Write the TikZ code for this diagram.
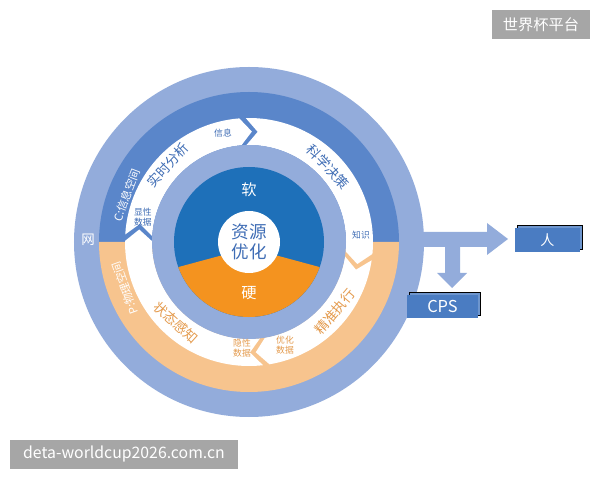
\documentclass[tikz,border=0pt]{standalone}
\usepackage{fontspec}
\setmainfont{Noto Sans CJK SC}
\usetikzlibrary{shadows}

\definecolor{ringlight}{HTML}{93ACDB}
\definecolor{ringblue}{HTML}{5A86CA}
\definecolor{ringorange}{HTML}{F7C48E}
\definecolor{coreblue}{HTML}{1E70B9}
\definecolor{coreorange}{HTML}{F4931F}
\definecolor{labelblue}{HTML}{3F6DB5}
\definecolor{labelorange}{HTML}{E49A4C}
\definecolor{boxblue}{HTML}{4A7CC2}
\definecolor{markgray}{HTML}{A6A6A6}

\begin{document}
\begin{tikzpicture}[x=0.03cm, y=0.03cm,
	steptext/.style={font=\fontsize{11.5}{12}\selectfont, inner sep=0pt},
	datatext/.style={font=\fontsize{7.5}{8.6}\selectfont, align=center, inner sep=0pt},
	ringtext/.style={text=white, font=\fontsize{9.5}{11}\selectfont, inner sep=0pt},
	outbox/.style={fill=boxblue, text=white, inner sep=0pt,
		copy shadow={shadow xshift=0.08cm, shadow yshift=0.08cm, fill=boxblue!80!white}},
	markbox/.style={fill=markgray, text=white, inner sep=0pt, minimum height=0.87cm}]
	\useasboundingbox (-249,-238) rectangle (351,242);
	% outer ring and the arrows out of it
	\fill[ringlight] (0,0) circle (175);
	\fill[ringlight] (166,10) -- (238,10) -- (238,19) -- (259,3) -- (238,-13) -- (238,-5)
		-- (211,-5) -- (211,-31) -- (218,-31) -- (203,-46) -- (188,-31) -- (196,-31)
		-- (196,-5) -- (166,-5) -- cycle;
	% C and P half rings
	\fill[ringblue] (150,0) arc[start angle=0, end angle=180, radius=150] -- cycle;
	\fill[ringorange] (-150,0) arc[start angle=180, end angle=360, radius=150] -- cycle;
	% white arrow band
	\foreach \t/\h in {176.5/94.5, 91.5/-5.5, -8.5/-80.5, -83.5/-180.5}
		\fill[white] (\t:124) arc[start angle=\t, end angle=\h, radius=124]
			-- ({\h-6}:110.5) -- (\h:97) arc[start angle=\h, end angle=\t, radius=97]
			-- ({\t-6}:110.5) -- cycle;
	% core
	\fill[ringlight] (0,0) circle (97);
	\fill[coreblue] (0,0) circle (75);
	\begin{scope}
		\clip (0,0) circle (75);
		\fill[coreorange] (0,-6) -- (-100,-33) -- (-100,-100) -- (100,-100) -- (100,-33) -- cycle;
	\end{scope}
	\fill[white] (0,0) circle (31);
	\node[text=labelblue, font=\fontsize{15}{17}\selectfont, align=center] (core) at (0,0) {资源\\优化};
	\node[text=white, font=\fontsize{13}{15}\selectfont] (soft) at (0,52) {软};
	\node[text=white, font=\fontsize{13}{15}\selectfont] (hard) at (0,-51) {硬};
	% ring labels
	\node[ringtext, rotate=69] (cyber) at (-122,47) {C:信息空间};
	\node[ringtext, rotate=110] (phys) at (-124,-46) {P:物理空间};
	\node[ringtext, font=\fontsize{11.5}{13}\selectfont] (net) at (-161,2) {网};
	% steps on the band
	\node[steptext, text=labelblue, rotate=47] (analyse) at (-81,77) {实时分析};
	\node[steptext, text=labelblue, rotate=-47] (decide) at (79,75) {科学决策};
	\node[steptext, text=labelorange, rotate=50] (execute) at (86,-70) {精准执行};
	\node[steptext, text=labelorange, rotate=-42] (sense) at (-73,-81) {状态感知};
	\node[datatext, text=labelblue] (explicit) at (-106,25) {显性\\数据};
	\node[datatext, text=labelblue] (info) at (-26,109) {信息};
	\node[datatext, text=labelblue] (know) at (112,7) {知识};
	\node[datatext, text=labelorange] (optim) at (36,-103) {优化\\数据};
	\node[datatext, text=labelorange] (implicit) at (-7,-106) {隐性\\数据};
	% output boxes
	\node[outbox, minimum width=1.95cm, minimum height=0.72cm, font=\fontsize{12}{14}\selectfont] (man) at (298.5,2) {人};
	\node[outbox, minimum width=2.13cm, minimum height=0.69cm, font=\fontsize{14}{16}\selectfont] (cps) at (193.5,-64.5) {CPS};
	% marks
	\node[markbox, minimum width=2.94cm, font=\fontsize{13}{15}\selectfont] (site) at (292,217.5) {世界杯平台};
	\node[markbox, minimum width=6.84cm, font=\fontsize{13.5}{15}\selectfont] (url) at (-125,-212.5) {deta-worldcup2026.com.cn};
\end{tikzpicture}
\end{document}
